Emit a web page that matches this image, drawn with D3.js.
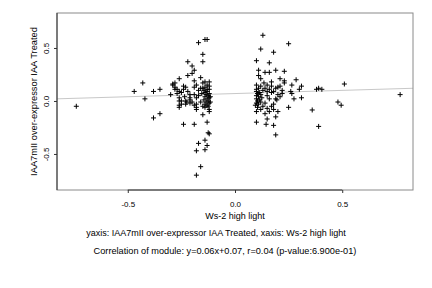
<!DOCTYPE html>
<html><head><meta charset="utf-8">
<script src="https://cdn.jsdelivr.net/npm/d3@7"></script>
<style>body{margin:0;background:#fff}svg{display:block}text{font-family:"Liberation Sans",Arial,sans-serif;fill:#000}</style>
</head><body>
<script>
const xTicks = [-0.5, 0.0, 0.5];
const yTicks = [-0.5, 0.0, 0.5];
const xTickLabels = ["-0.5", "0.0", "0.5"];
const yTickLabels = ["-0.5", "0.0", "0.5"];
const xLabel = "Ws-2 high light";
const yLabel = "IAA7mII over-expressor IAA Treated";
const caption1 = "yaxis: IAA7mII over-expressor IAA Treated, xaxis: Ws-2 high light";
const caption2 = "Correlation of module: y=0.06x+0.07, r=0.04 (p-value:6.900e-01)";
const fitSlope = 0.06, fitIntercept = 0.07;
const pointX = [
-0.74,-0.47,-0.43,-0.42,-0.38,-0.38,-0.35,-0.35,-0.30,-0.29,-0.28,-0.28,-0.26,-0.26,-0.26,-0.26,-0.26,-0.26,
-0.29,-0.27,-0.24,-0.23,-0.19,-0.18,-0.15,-0.22,-0.20,-0.19,-0.20,-0.22,-0.15,-0.15,-0.17,-0.14,-0.13,-0.19,-0.16,
-0.25,-0.235,-0.21,-0.19,-0.18,-0.17,-0.25,-0.23,-0.21,-0.19,-0.18,-0.21,-0.225,-0.18,-0.18,
-0.28,-0.27,-0.25,-0.22,-0.21,-0.23,-0.20,-0.24,-0.17,-0.16,
-0.14,-0.12,-0.13,-0.14,-0.12,-0.13,-0.14,-0.12,-0.135,-0.125,-0.14,-0.12,-0.13,-0.145,-0.125,-0.135,-0.12,-0.14,-0.13,-0.125,-0.14,-0.12,-0.16,-0.155,-0.15,-0.13,-0.12,-0.145,-0.115,-0.115,-0.15,-0.12,
-0.15,-0.24,-0.19,-0.13,-0.12,-0.125,-0.17,-0.14,-0.13,-0.18,-0.14,-0.16,-0.18,
0.13,0.12,0.18,0.10,0.16,0.11,0.14,0.16,0.19,0.11,0.12,0.25,0.23,0.21,0.23,0.23,0.285,0.265,0.21,0.31,0.30,0.38,0.39,0.405,0.51,0.26,0.265,0.195,0.275,0.31,0.18,0.25,0.48,0.495,0.77,0.36,0.18,0.20,0.19,0.18,0.39,0.19,0.15,0.10,0.145,
0.10,0.12,0.11,0.10,0.13,0.10,0.115,0.105,0.12,0.10,0.11,0.125,0.10,0.115,0.105,0.12,0.10,0.11,0.095,0.13,0.105,0.12,0.10,0.14,0.15,0.16,0.17,0.15,0.16,0.14,0.15,0.17,0.16,0.14,0.135,0.15,0.17,0.19,0.18,0.20,0.22,0.21,0.20,0.17,0.22,0.19
];
const pointY = [
-0.05,0.09,0.17,0.02,0.09,-0.16,0.11,-0.12,0.06,0.15,0.17,0.11,0.21,0.09,0.00,-0.04,0.03,-0.06,
0.16,0.11,0.14,0.13,0.13,0.15,0.17,0.24,0.26,0.29,0.33,0.37,0.37,0.44,0.55,0.58,0.58,0.19,0.22,
0.00,0.04,0.03,0.06,0.03,0.05,-0.03,-0.03,-0.02,-0.04,-0.03,0.01,-0.01,-0.06,-0.08,
0.13,0.07,0.08,0.09,0.06,0.00,-0.01,0.11,0.10,0.12,
0.18,0.18,0.15,0.13,0.11,0.09,0.08,0.07,0.06,0.05,0.04,0.03,0.02,0.01,0.00,-0.01,-0.02,-0.03,-0.04,-0.05,-0.06,-0.08,-0.01,0.07,0.12,0.11,0.14,0.10,0.04,-0.01,-0.05,-0.10,
-0.13,-0.22,-0.22,-0.20,-0.31,-0.30,-0.40,-0.37,-0.42,-0.47,-0.46,-0.62,-0.70,
0.62,0.49,0.46,0.38,0.36,0.29,0.27,0.27,0.29,0.24,0.21,0.54,0.28,0.21,0.19,0.17,0.20,0.15,0.14,0.14,0.11,0.11,0.12,0.11,0.16,0.09,0.07,0.01,0.02,0.03,-0.03,-0.06,-0.01,-0.04,0.06,-0.085,-0.08,-0.10,-0.15,-0.23,-0.24,-0.32,-0.17,-0.20,-0.22,
0.15,0.14,0.12,0.11,0.10,0.09,0.08,0.07,0.06,0.05,0.04,0.03,0.02,0.01,0.00,-0.01,-0.02,-0.03,-0.04,-0.05,-0.06,-0.08,-0.10,0.12,0.09,0.11,0.08,0.05,0.02,-0.02,-0.07,-0.05,-0.10,-0.12,0.17,0.15,0.14,0.12,0.09,0.06,0.10,0.04,0.13,0.18,0.07,0.02
];

const W = 432, H = 288;
const L = 57, R = 413, T = 13, B = 190;
const svg = d3.select("body").append("svg").attr("width", W).attr("height", H);
const x = d3.scaleLinear().domain([-0.83, 0.83]).range([L, R]);
const y = d3.scaleLinear().domain([-0.84, 0.83]).range([B, T]);

svg.append("line")
  .attr("x1", x(-0.83)).attr("x2", x(0.83))
  .attr("y1", y(fitIntercept + fitSlope * -0.83)).attr("y2", y(fitIntercept + fitSlope * 0.83))
  .attr("stroke", "#c8c8c8").attr("stroke-width", 1);

svg.append("rect").attr("x", L).attr("y", T).attr("width", R - L).attr("height", B - T)
  .attr("fill", "none").attr("stroke", "#8a8a8a").attr("stroke-width", 1);

const xAxis = d3.axisBottom(x).tickValues(xTicks).tickFormat((d, i) => xTickLabels[i]).tickSize(3).tickPadding(8);
const gx = svg.append("g").attr("transform", `translate(0,${B})`).call(xAxis);
gx.select(".domain").remove();
gx.append("line").attr("x1", x(-0.5)).attr("x2", x(0.5)).attr("stroke", "#333");
gx.selectAll("text").style("font-size", "8px").attr("font-family", "Liberation Sans, Arial, sans-serif");
gx.selectAll(".tick line").attr("stroke", "#333");

const yAxis = d3.axisLeft(y).tickValues(yTicks).tickFormat((d, i) => yTickLabels[i]).tickSize(3).tickPadding(4);
const gy = svg.append("g").attr("transform", `translate(${L},0)`).call(yAxis);
gy.select(".domain").remove();
gy.append("line").attr("y1", T).attr("y2", B).attr("stroke", "#333");
gy.selectAll(".tick line").attr("stroke", "#333");
gy.selectAll("text").style("font-size", "8px").attr("font-family", "Liberation Sans, Arial, sans-serif")
  .attr("text-anchor", "middle").attr("x", 0).attr("dy", 0)
  .attr("transform", "translate(-8,0) rotate(-90)");

const pts = pointX.map((v, i) => [v, pointY[i]]);
const s = 2.5;
svg.append("g").selectAll("path").data(pts).join("path")
  .attr("d", d => `M${x(d[0]) - s},${y(d[1])}h${2 * s}M${x(d[0])},${y(d[1]) - s}v${2 * s}`)
  .attr("stroke", "#000").attr("stroke-width", 1).attr("fill", "none");

svg.append("text").attr("x", (L + R) / 2).attr("y", 219).attr("text-anchor", "middle").style("font-size", "9px").text(xLabel);
svg.append("text").attr("transform", `translate(37,${(T + B) / 2}) rotate(-90)`).attr("text-anchor", "middle").style("font-size", "9.3px").text(yLabel);
svg.append("text").attr("x", 216).attr("y", 236).attr("text-anchor", "middle").style("font-size", "9px").text(caption1);
svg.append("text").attr("x", 225).attr("y", 254).attr("text-anchor", "middle").style("font-size", "9.2px").text(caption2);
</script>
</body></html>
